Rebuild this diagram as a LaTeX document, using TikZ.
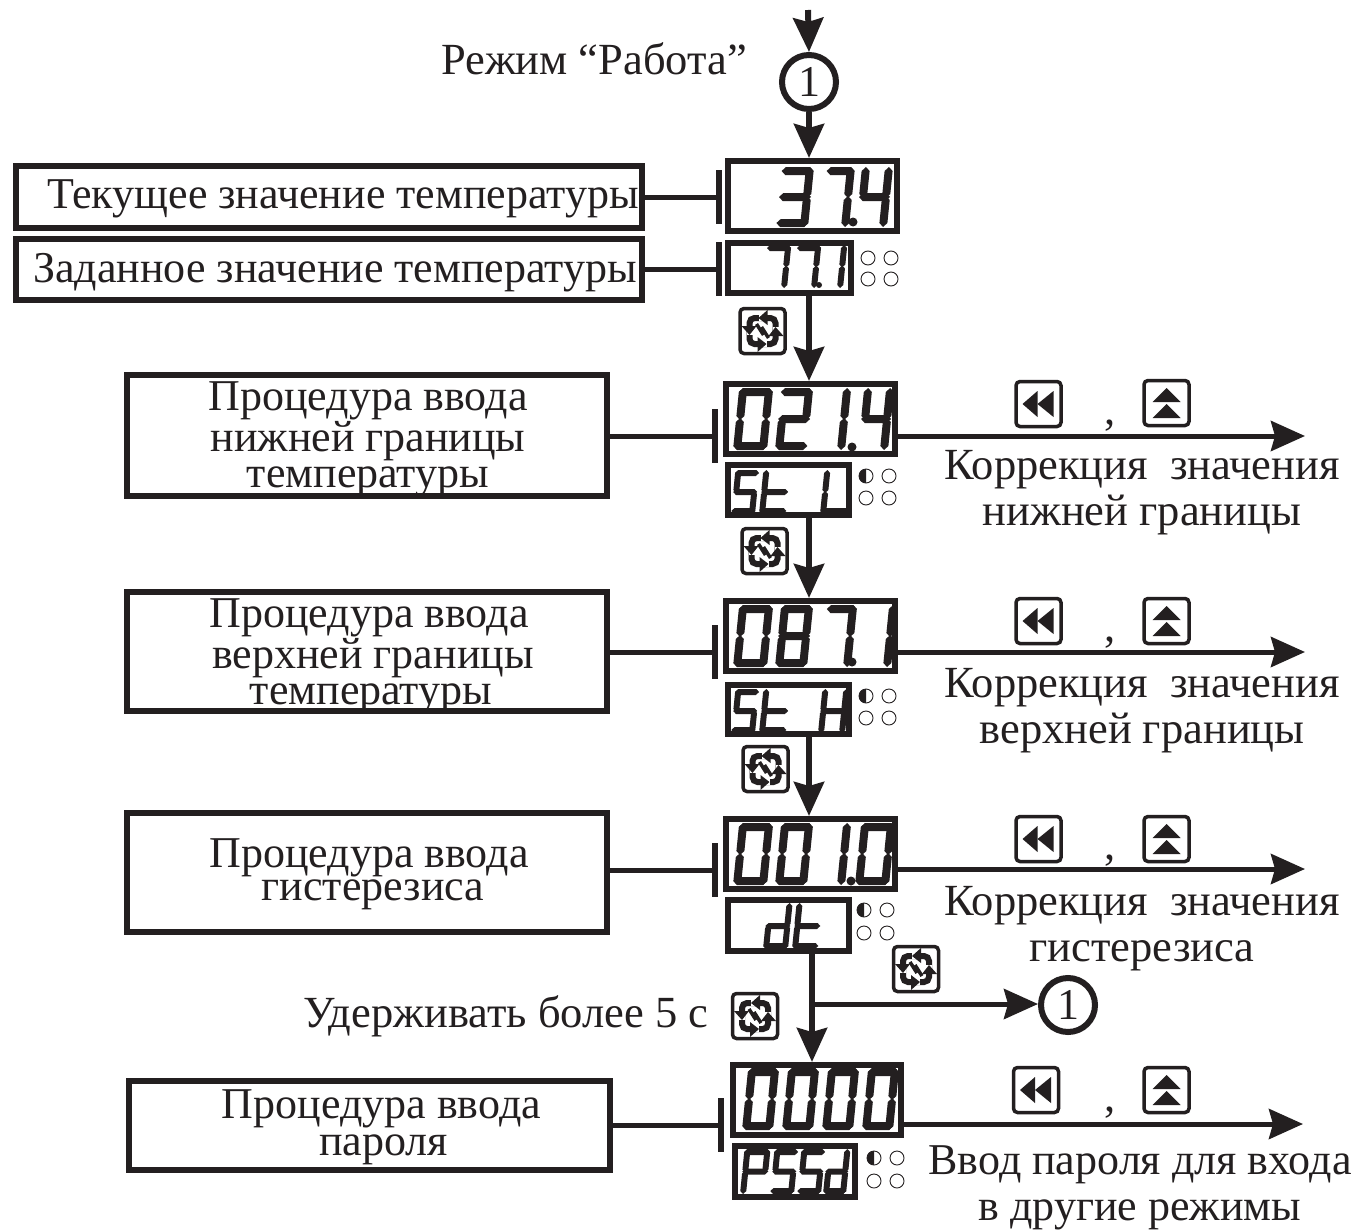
\documentclass[tikz,border=0pt]{standalone}
\usepackage{fontspec}
\setmainfont{Liberation Serif}
\usetikzlibrary{arrows.meta}
\definecolor{ink}{HTML}{231F20}
\newcommand\dT{6}\newcommand\dW{30}\newcommand\dH{60}
\newcommand\hseg[3]{\fill (#1,#2) -- ({#1+\dT/2},{#2-\dT/2}) -- ({#3-\dT/2},{#2-\dT/2}) -- (#3,#2) -- ({#3-\dT/2},{#2+\dT/2}) -- ({#1+\dT/2},{#2+\dT/2}) -- cycle;}
\newcommand\vseg[3]{\fill (#1,#2) -- ({#1+\dT/2},{#2+\dT/2}) -- ({#1+\dT/2},{#3-\dT/2}) -- (#1,#3) -- ({#1-\dT/2},{#3-\dT/2}) -- ({#1-\dT/2},{#2+\dT/2}) -- cycle;}
\newcommand\sega{\hseg{0}{-\dH+\dT/2}{\dW}}
\newcommand\segg{\hseg{0}{-\dH/2}{\dW}}
\newcommand\segd{\hseg{0}{-\dT/2}{\dW}}
\newcommand\segb{\vseg{\dW-\dT/2}{-\dH}{-\dH/2+1}}
\newcommand\segc{\vseg{\dW-\dT/2}{-\dH/2-1}{0}}
\newcommand\sege{\vseg{\dT/2}{-\dH/2-1}{0}}
\newcommand\segf{\vseg{\dT/2}{-\dH}{-\dH/2+1}}
% \dg{x}{ybottom}{w}{h}{t}{segments}
\newcommand\dg[6]{\begin{scope}[shift={(#1,#2)},xslant=.1]
\renewcommand\dW{#3}\renewcommand\dH{#4}\renewcommand\dT{#5}
\foreach \s in {#6}{\csname seg\s\endcsname}
\end{scope}}
\newcommand\led[3]{\draw[line width=.9pt] (#1,#2) circle[radius=7];
 \ifnum#3=1 \fill (#1,#2+7) arc[start angle=90,end angle=270,radius=7] -- cycle;\fi}
\newcommand\leds[5]{\led{#1}{#3}{#5}\led{#2}{#3}{0}\led{#1}{#4}{0}\led{#2}{#4}{0}}
\newcommand\bx[7][6]{\node[draw,line width=#1pt,inner sep=0pt,#2,minimum width={#5-#3-#1},minimum height={#6-#4-#1}] (#7) at ({(#3+#5)/2},{(#4+#6)/2}) {};}
% \tbx{name}{x1}{y1}{x2}{y2}{dx,dy}{text}
\newcommand\tbx[7]{\node[draw,line width=6pt,inner sep=0pt,minimum width={#4-#2-6},minimum height={#5-#3-6}] (#1) at ({(#2+#4)/2},{(#3+#5)/2}) {};
 \node[inner sep=0pt,align=center,font=\lab] (#1t) at ([shift={(#6)}]#1.center) {#7};}
\newcommand\lab{\fontsize{44}{36.5}\selectfont}
\newcommand\labb{\fontsize{44.5}{46}\selectfont}
\newcommand\lbtn[3]{\node[btn] (#1) at (#2,#3) {};
 \fill (#2-16,#3) -- (#2-1,#3-13) -- (#2-1,#3+13) -- cycle;
 \fill (#2-1,#3) -- (#2+15,#3-13) -- (#2+15,#3+13) -- cycle;}
\newcommand\ubtn[3]{\node[btn] (#1) at (#2,#3) {};
 \fill (#2,#3-15) -- (#2-14,#3-1) -- (#2+14,#3-1) -- cycle;
 \fill (#2,#3+1) -- (#2-14,#3+15) -- (#2+14,#3+15) -- cycle;}
\newcommand\rbtn[3]{\node[btn] (#1) at (#2,#3) {};
 \begin{scope}[shift={(#2,#3)}]
 \draw[line width=6pt,rounded corners=5pt] (-13,-13) rectangle (13,13);
 \foreach \r in {0,90,180,270}{\begin{scope}[rotate=\r]
   \fill[white] (-4,-10) rectangle (4,-16);
   \fill (-4,-13) -- (5,-21) -- (5,-6) -- cycle;
 \end{scope}}
 \draw[line width=3.5pt] (-6,-7) -- (1,4) (6,7) -- (-1,-4);
 \end{scope}}
\tikzset{
 arr/.style={line width=6pt,ink,-{Stealth[length=34pt,width=30pt,inset=4pt]}},
 harr/.style={line width=5pt,ink,-{Stealth[length=34pt,width=30pt,inset=4pt]}},
 barend/.style={line width=5pt,ink,-{Bar[width=54pt,line width=6pt]}},
 btn/.style={draw,line width=3.5pt,rounded corners=4pt,minimum size=45pt,inner sep=0pt},
 txt/.style={inner sep=0pt,align=center,font=\labb},
 num/.style={draw,circle,line width=6pt,inner sep=0pt,minimum size=54pt,font=\fontsize{44}{46}\selectfont},
}
\begin{document}
\begin{tikzpicture}[x=1pt,y=-1pt,color=ink,every node/.append style={text=ink}]
\useasboundingbox (0,0) rectangle (1357,1231);
\fill[white] (0,0) rectangle (1357,1231);
% left boxes
\tbx{b1}{13}{163}{645}{231}{14,2}{Текущее значение температуры}
\tbx{b2}{13}{236}{645}{303}{6,3}{Заданное значение температуры}
\tbx{b3}{124}{372}{610}{499}{1,4}{Процедура ввода\\нижней границы\\температуры}
\tbx{b4}{124}{589}{610}{714}{2,5}{Процедура ввода\\\hspace*{8pt}верхней границы\\\hspace*{4pt}температуры}
\tbx{b5}{124}{810}{610}{935}{2,2}{Процедура ввода\\[-3pt]\hspace*{8pt}гистерезиса}
\tbx{b6}{126}{1078}{613}{1173}{12,2}{Процедура ввода\\\hspace*{4pt}пароля}
% displays
\bx{}{725}{158}{900}{234}{d1}
\bx{}{725}{240}{854}{296}{s1}
\bx{}{723}{381}{898}{457}{d2}
\bx{}{725}{462}{852}{518}{s2}
\bx{}{723}{598}{898}{674}{d3}
\bx{}{725}{682}{852}{737}{s3}
\bx{}{723}{816}{898}{892}{d4}
\bx{}{725}{897}{852}{954}{s4}
\bx{}{730}{1062}{904}{1138}{d5}
\bx{}{732}{1143}{858}{1200}{s5}
% circles
\node[num] (c1) at (809,82) {1};
\node[num] (c2) at (1068,1005) {1};
\coordinate (top) at (808,10);
% bar connectors
\coordinate (e1) at (722,197);
\coordinate (e2) at (722,269);
\coordinate (e3) at (718,436);
\coordinate (e4) at (718,652);
\coordinate (e5) at (718,870);
\coordinate (e6) at (724,1125);
\draw[barend] (b1.east |- e1) -- (e1);
\draw[barend] (b2.east |- e2) -- (e2);
\draw[barend] (b3.east |- e3) -- (e3);
\draw[barend] (b4.east |- e4) -- (e4);
\draw[barend] (b5.east |- e5) -- (e5);
\draw[barend] (b6.east |- e6) -- (e6);
% vertical arrows
\draw[arr] (top) -- (c1.north);
\draw[arr] (c1.south) -- (c1.south |- d1.north);
\draw[arr] (c1.south |- s1.south) -- (c1.south |- d2.north);
\draw[arr] (c1.south |- s2.south) -- (c1.south |- d3.north);
\draw[arr] (c1.south |- s3.south) -- (c1.south |- d4.north);
\coordinate (v5) at (812,954);
\coordinate (j5) at (812,1004);
\draw[arr] (v5) -- (v5 |- d5.north);
\draw[harr] (j5) -- (c2.west |- j5);
% right arrows
\coordinate (t2) at (1305,436);
\coordinate (t3) at (1305,652);
\coordinate (t4) at (1305,869);
\coordinate (t5) at (1303,1124);
\draw[harr] (d2.east |- t2) -- (t2);
\draw[harr] (d3.east |- t3) -- (t3);
\draw[harr] (d4.east |- t4) -- (t4);
\draw[harr] (d5.east |- t5) -- (t5);
% leds
\leds{868}{891}{258}{279}{0}
\leds{866}{889}{476}{498}{1}
\leds{866}{889}{696}{718}{1}
\leds{864}{887}{910}{933}{1}
\leds{874}{897}{1158}{1181}{1}
% digits display 1
\dg{776}{227}{32}{60}{8}{a,b,c,d,g}
\dg{821}{227}{28}{60}{8}{a,b,c}
\fill (853,222) circle[radius=4.5];
\dg{856}{227}{31}{60}{8}{b,c,f,g}
% s1
\dg{763}{288}{24}{43}{6}{a,b,c}
\dg{793}{288}{24}{43}{6}{a,b,c}
\fill (819,285) circle[radius=3];
\dg{819}{288}{24}{43}{6}{b,c}
% d2
\dg{733}{450}{34}{62}{8}{a,b,c,d,e,f}
\dg{775}{450}{32}{62}{8}{a,b,d,e,g}
\dg{815}{450}{30}{62}{8}{b,c}
\fill (852,447) circle[radius=4.5];
\dg{858}{450}{30}{62}{8}{b,c,f,g}
% d3
\dg{733}{667}{34}{62}{8}{a,b,c,d,e,f}
\dg{775}{667}{32}{62}{8}{a,b,c,d,e,f,g}
\dg{821}{667}{30}{62}{8}{a,b,c}
\fill (852,662) circle[radius=4.5];
\dg{861}{667}{30}{62}{8}{b,c}
% d4
\dg{733}{885}{34}{62}{8}{a,b,c,d,e,f}
\dg{775}{885}{32}{62}{8}{a,b,c,d,e,f}
\dg{815}{885}{30}{62}{8}{b,c}
\fill (851,881) circle[radius=4.5];
\dg{855}{885}{34}{62}{8}{a,b,c,d,e,f}
% d5
\dg{742}{1130}{31}{62}{8}{a,b,c,d,e,f}
\dg{782}{1130}{31}{62}{8}{a,b,c,d,e,f}
\dg{822}{1130}{31}{62}{8}{a,b,c,d,e,f}
\dg{862}{1130}{31}{62}{8}{a,b,c,d,e,f}
% s2 St L
\dg{731}{514}{24}{44}{6}{a,c,d,f,g}
\dg{759}{514}{27}{44}{6}{d,e,f,g}
\dg{820}{514}{28}{44}{6}{d,e,f}
% s3 St H
\dg{731}{733}{24}{44}{6}{a,c,d,f,g}
\dg{759}{733}{27}{44}{6}{d,e,f,g}
\dg{818}{733}{27}{44}{6}{b,c,e,f,g}
% s4 dt
\dg{763}{949}{25}{46}{6}{b,c,d,e,g}
\dg{792}{949}{26}{46}{6}{d,e,f,g}
% s5 PSSd
\dg{740}{1194}{26}{45}{6}{a,b,e,f,g}
\dg{770}{1194}{24}{45}{6}{a,c,d,f,g}
\dg{797}{1194}{24}{45}{6}{a,c,d,f,g}
\dg{823}{1194}{23}{45}{6}{b,c,d,e,g}
% buttons
\lbtn{l2}{1038.5}{404}\ubtn{u2}{1166.5}{403}
\lbtn{l3}{1038.5}{621}\ubtn{u3}{1166.5}{621}
\lbtn{l4}{1038.5}{839}\ubtn{u4}{1166.5}{839}
\lbtn{l5}{1036}{1090}\ubtn{u5}{1166.5}{1090}
\rbtn{r1}{762.5}{331}
\rbtn{r2}{764.5}{551}
\rbtn{r3}{765.5}{769}
\rbtn{r4}{916}{969}
\rbtn{r5}{755}{1016}
% commas
\node[txt] (cm2) at (1110,426) {,};
\node[txt] (cm3) at (1110,643) {,};
\node[txt] (cm4) at (1110,861) {,};
\node[txt] (cm5) at (1110,1113) {,};
% free text
\node[txt] (mode) at (594,59) {Режим “Работа”};
\node[txt] (hold) at (506,1016) {Удерживать более 5 с};
\node[txt] (k2) at (1142,493) {Коррекция\ \ значения\\нижней границы};
\node[txt] (k3) at (1142,711) {Коррекция\ \ значения\\верхней границы};
\node[txt] (k4) at (1142,929) {Коррекция\ \ значения\\гистерезиса};
\node[txt,font=\fontsize{44}{46}\selectfont] (k5) at (1140,1188) {Ввод пароля для входа\\в другие режимы};
\end{tikzpicture}
\end{document}
